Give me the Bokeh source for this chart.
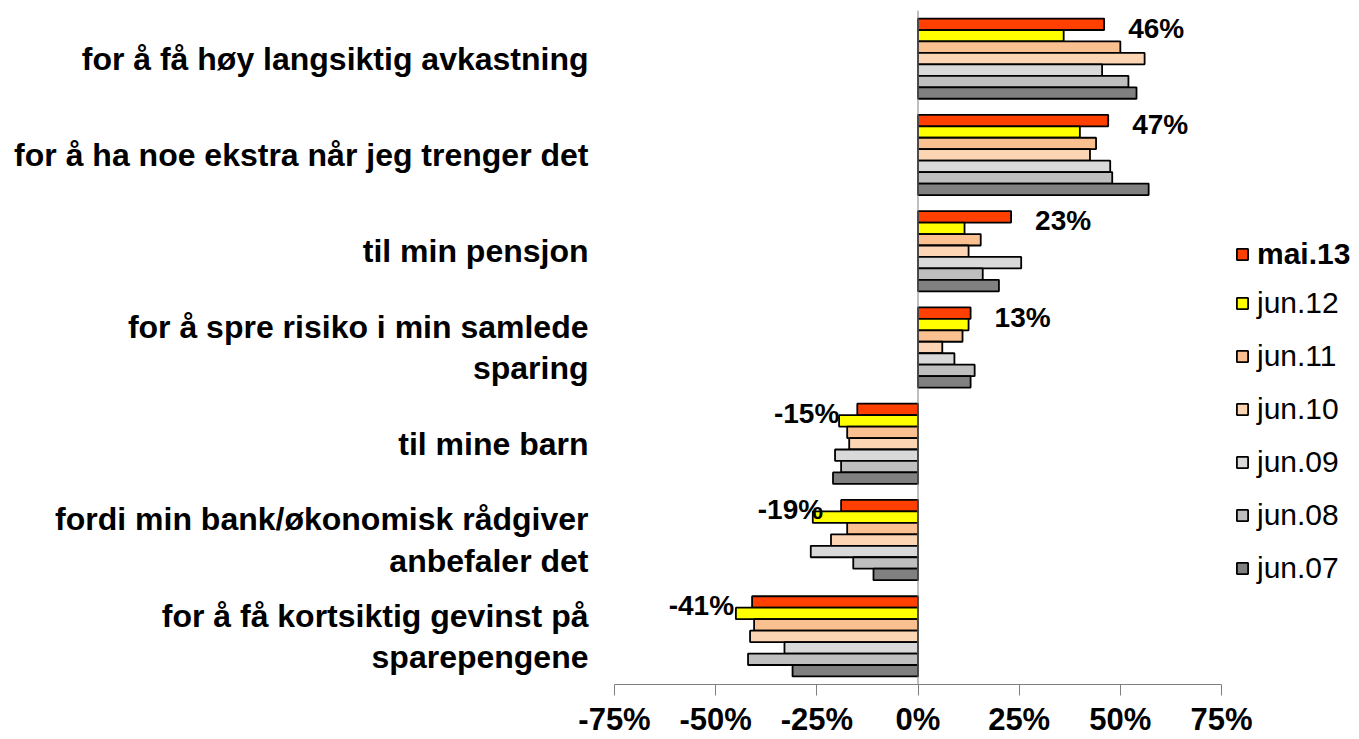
from bokeh.plotting import figure
from bokeh.models import (FactorRange, Range1d, Span, Legend, LegendItem, FixedTicker,
                          PrintfTickFormatter, ColumnDataSource)
from bokeh.transform import dodge
from bokeh.core.properties import value
from bokeh.embed import file_html
from bokeh.resources import INLINE

# ---------------- data ----------------
categories = [
    "for å få høy langsiktig avkastning",
    "for å ha noe ekstra når jeg trenger det",
    "til min pensjon",
    "for å spre risiko i min samlede\nsparing",
    "til mine barn",
    "fordi min bank/økonomisk rådgiver\nanbefaler det",
    "for å få kortsiktig gevinst på\nsparepengene",
]
series_names = ["mai.13", "jun.12", "jun.11", "jun.10", "jun.09", "jun.08", "jun.07"]
mai13 = [46, 47, 23, 13, -15, -19, -41]
jun12 = [36, 40, 11.5, 12.5, -19.5, -26, -45]
jun11 = [50, 44, 15.5, 11, -17.5, -17.5, -40.5]
jun10 = [56, 42.5, 12.5, 6, -17, -21.5, -41.5]
jun09 = [45.5, 47.5, 25.5, 9, -20.5, -26.5, -33]
jun08 = [52, 48, 16, 14, -19, -16, -42]
jun07 = [54, 57, 20, 13, -21, -11, -31]
x_ticks = [-75, -50, -25, 0, 25, 50, 75]

series_values = [mai13, jun12, jun11, jun10, jun09, jun08, jun07]
colors = ["#FF4000", "#FFFF00", "#FAC090", "#FCD5B4", "#D9D9D9", "#BFBFBF", "#808080"]

FONT = "Liberation Sans"

W, H = 1359, 739
LEFT = 614            # frame left edge (pixels)
AXIS_PX = 607         # pixels from -75% to 75%
px_per_unit = AXIS_PX / 150.0
x_end = 75 + (W - LEFT - AXIS_PX) / px_per_unit   # frame extends to the right edge (room for legend)

p = figure(width=W, height=H, output_backend="svg", toolbar_location=None,
           y_range=FactorRange(factors=list(reversed(categories))),
           x_range=Range1d(-75, x_end),
           min_border_left=LEFT, min_border_right=0, min_border_top=10, min_border_bottom=51)
p.outline_line_color = None
p.xgrid.visible = False
p.ygrid.visible = False

bar_h = 0.119
renderers = []
for i, (name, vals) in enumerate(zip(series_names, series_values)):
    src = ColumnDataSource(dict(cat=categories, val=vals))
    off = 3 * bar_h - i * bar_h
    r = p.hbar(y=dodge("cat", off, range=p.y_range), left=0, right="val", height=bar_h,
               source=src, fill_color=colors[i], line_color="black", line_width=1.8)
    renderers.append(r)

# zero line
p.add_layout(Span(location=0, dimension="height", line_color="#808080", line_width=1))

# data labels for mai.13
pos_idx = [k for k, v in enumerate(mai13) if v >= 0]
neg_idx = [k for k, v in enumerate(mai13) if v < 0]
pos_src = ColumnDataSource(dict(cat=[categories[k] for k in pos_idx], val=[mai13[k] for k in pos_idx],
                                txt=[f"{mai13[k]:.0f}%" for k in pos_idx]))
neg_src = ColumnDataSource(dict(cat=[categories[k] for k in neg_idx], val=[mai13[k] for k in neg_idx],
                                txt=[f"{mai13[k]:.0f}%" for k in neg_idx]))
p.text(x="val", y=dodge("cat", 3 * bar_h, range=p.y_range), text="txt", source=pos_src,
       x_offset=24, y_offset=4, text_align="left", text_baseline="middle",
       text_font=value(FONT), text_font_style="bold", text_font_size="28px", text_color="black")
p.text(x="val", y=dodge("cat", 3 * bar_h, range=p.y_range), text="txt", source=neg_src,
       x_offset=-18, y_offset=4, text_align="right", text_baseline="middle",
       text_font=value(FONT), text_font_style="bold", text_font_size="28px", text_color="black")

# x axis
xa = p.xaxis[0]
xa.ticker = FixedTicker(ticks=x_ticks)
xa.bounds = (-75, 75)
xa.formatter = PrintfTickFormatter(format="%d%%")
xa.minor_tick_line_color = None
xa.axis_line_color = "#808080"
xa.major_tick_line_color = "#808080"
xa.major_tick_out = 11
xa.major_tick_in = 0
xa.major_label_standoff = 6
xa.major_label_text_font = FONT
xa.major_label_text_font_style = "bold"
xa.major_label_text_font_size = "31px"
xa.major_label_text_color = "black"

# y axis
ya = p.yaxis[0]
ya.axis_line_color = None
ya.major_tick_line_color = None
ya.minor_tick_line_color = None
ya.major_tick_out = 0
ya.major_tick_in = 0
ya.major_label_standoff = 26
ya.major_label_text_font = FONT
ya.major_label_text_font_style = "bold"
ya.major_label_text_font_size = "32px"
ya.major_label_text_line_height = 1.15
ya.major_label_text_color = "black"

# legends
common = dict(glyph_width=14, glyph_height=14, label_height=40, label_standoff=8, spacing=13,
              padding=0, margin=0, border_line_color=None, background_fill_alpha=0,
              label_text_font=FONT, label_text_font_size="30px", label_text_color="black")
legA = Legend(items=[LegendItem(label=series_names[0], renderers=[renderers[0]])],
              location=(621, 410), label_text_font_style="bold", **common)
legB = Legend(items=[LegendItem(label=series_names[i], renderers=[renderers[i]]) for i in range(1, 7)],
              location=(621, 96), **common)
p.add_layout(legA)
p.add_layout(legB)

open("out.html", "w").write(file_html(p, INLINE))
